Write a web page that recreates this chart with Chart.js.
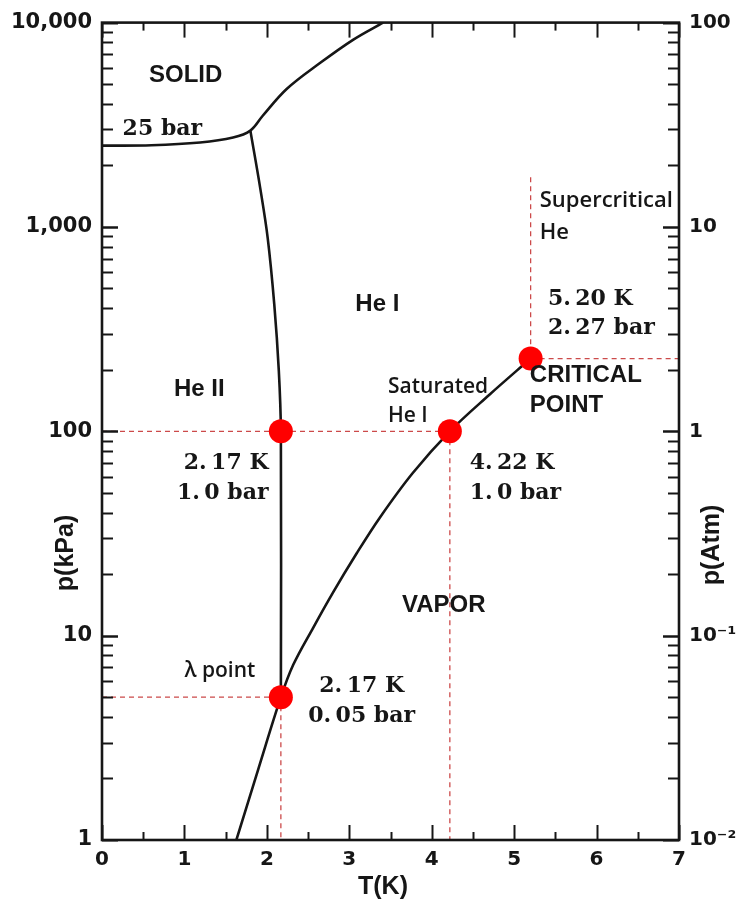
<!DOCTYPE html>
<html>
<head>
<meta charset="utf-8">
<script src="https://cdn.jsdelivr.net/npm/chart.js@4.4.1/dist/chart.umd.min.js"></script>
<style>
  body { margin: 0; background: #fff; }
  canvas { display: block; }
</style>
</head>
<body>
<canvas id="phaseChart" width="736" height="908"></canvas>
<script>
// helium phase boundaries, T in K, p in kPa
const meltT = [0, 0.6, 1.19, 1.59, 1.8, 1.95, 2.24, 2.64, 3.05, 3.41];
const meltP = [2500, 2510, 2590, 2740, 2960, 3500, 4730, 6320, 8260, 10000];

const lambdaT = [1.8, 1.92, 2.01, 2.09, 2.145, 2.17, 2.17];
const lambdaP = [2960, 1545, 885, 418, 198, 100, 5];

const vaporT = [1.63, 1.9, 2.17, 2.32, 2.56, 2.8, 3.09, 3.37, 3.77, 4.22, 4.7, 5.2];
const vaporP = [1, 2.25, 5, 7.2, 10.9, 16.2, 25.3, 37.8, 62.5, 100, 151, 227];

// marked points: lambda (1 bar), boiling point, critical point, lambda (SVP)
const pointT = [2.17, 4.22, 5.2, 2.17];
const pointP = [100, 100, 227, 5];

// guide lines, each one [T0, p0, T1, p1]
const guides = [
  [0, 100, 4.22, 100],
  [4.22, 100, 4.22, 1],
  [0, 5, 2.17, 5],
  [2.17, 5, 2.17, 1],
  [5.2, 1750, 5.2, 227],
  [5.2, 227, 7, 227]
];

const kpaTicks = [1, 10, 100, 1000, 10000];
const atmTicks = [0.01, 0.1, 1, 10, 100];
const atmLabels = ["10\u207B\u00B2", "10\u207B\u00B9", "1", "10", "100"];

const zip = (xs, ys) => xs.map((x, i) => ({ x: x, y: ys[i] }));

const INK = "#161616";
const SANS = '"Liberation Sans", Arial, sans-serif';
const SERIF = '"DejaVu Serif", serif';
const SOFT = '"Open Sans", sans-serif';

// annotations placed in data units (T, p)
const notes = [
  { t: 0.57, p: 5500, lines: ["SOLID"], font: "bold 24px " + SANS },
  { t: 0.25, p: 3000, lines: ["25 bar"], font: "bold 22px " + SERIF },
  { t: 3.34, p: 420, lines: ["He I"], font: "bold 24px " + SANS, align: "center" },
  { t: 1.18, p: 160, lines: ["He II"], font: "bold 24px " + SANS, align: "center" },
  { t: 3.47, p: 165, lines: ["Saturated", "He I"], font: "600 21px " + SOFT, gap: 29 },
  { t: 5.19, p: 187, lines: ["CRITICAL", "POINT"], font: "bold 24px " + SANS, gap: 30 },
  { t: 5.31, p: 1337, lines: ["Supercritical", "He"], font: "600 22px " + SOFT, gap: 32 },
  { t: 5.41, p: 442, lines: ["5.\u200920 K", "2.\u200927 bar"], font: "bold 22px " + SERIF, gap: 29 },
  { t: 2.02, p: 70, lines: ["2.\u200917 K", "1.\u20090 bar"], font: "bold 22px " + SERIF, gap: 30, align: "right" },
  { t: 4.46, p: 70, lines: ["4.\u200922 K", "1.\u20090 bar"], font: "bold 22px " + SERIF, gap: 30 },
  { t: 3.64, p: 14.1, lines: ["VAPOR"], font: "bold 24px " + SANS },
  { t: 1.0, p: 6.7, lines: ["\u03BB point"], font: "600 21px " + SOFT },
  { t: 3.15, p: 5.65, lines: ["2.\u200917 K", "0.\u200905 bar"], font: "bold 22px " + SERIF, gap: 30, align: "center" }
];

const frame = {
  id: "frame",
  afterDatasetsDraw(chart) {
    const { ctx, chartArea: a, scales } = chart;
    const seg = (x0, y0, x1, y1) => { ctx.beginPath(); ctx.moveTo(x0, y0); ctx.lineTo(x1, y1); ctx.stroke(); };
    ctx.save();
    ctx.strokeStyle = INK;
    ctx.lineWidth = 2;

    // inward ticks, top and bottom
    for (let t = 0; t <= 7; t += 0.5) {
      const px = Math.round(scales.x.getPixelForValue(t)) + 0.5;
      const len = t % 1 === 0 ? 15 : 8;
      seg(px, a.bottom, px, a.bottom - len);
      seg(px, a.top, px, a.top + len);
    }
    // inward log ticks, left and right
    for (let d = 1; d < 10000; d *= 10) {
      for (let m = 1; m <= 10; m++) {
        const py = Math.round(scales.y.getPixelForValue(d * m)) + 0.5;
        const len = (m === 1 || m === 10) ? 16 : 11;
        seg(a.left, py, a.left + len, py);
        seg(a.right, py, a.right - len, py);
      }
    }
    ctx.lineWidth = 2.6;
    ctx.strokeRect(a.left, a.top, a.right - a.left, a.bottom - a.top);

    // annotations
    ctx.fillStyle = INK;
    ctx.textBaseline = "middle";
    notes.forEach(n => {
      const x = scales.x.getPixelForValue(n.t);
      const y = scales.y.getPixelForValue(n.p);
      ctx.font = n.font;
      ctx.textAlign = n.align || "left";
      n.lines.forEach((s, i) => ctx.fillText(s, x, y + i * (n.gap || 0)));
    });

    // axis titles
    ctx.font = "bold 25px " + SANS;
    ctx.textAlign = "center";
    ctx.fillText("T(K)", 383, 887);
    ctx.save();
    ctx.translate(66, 553);
    ctx.rotate(-Math.PI / 2);
    ctx.fillText("p(kPa)", 0, 0);
    ctx.restore();
    ctx.save();
    ctx.translate(712, 545);
    ctx.rotate(-Math.PI / 2);
    ctx.fillText("p(Atm)", 0, 0);
    ctx.restore();
    ctx.restore();
  }
};

const tickFont = { family: '"DejaVu Sans", sans-serif', size: 21, weight: "bold" };
const noGrid = { display: false, drawTicks: false };

const datasets = [
  {
    data: zip(pointT, pointP),
    showLine: false,
    pointRadius: 12,
    pointBackgroundColor: "#ff0000",
    pointBorderWidth: 0,
    order: 0
  },
  { data: zip(meltT, meltP) },
  { data: zip(lambdaT, lambdaP) },
  { data: zip(vaporT, vaporP) }
].map(d => Object.assign({ showLine: true, borderColor: INK, borderWidth: 2.6, pointRadius: 0, tension: 0.35, order: 1 }, d));

guides.forEach(g => {
  datasets.push({
    data: [{ x: g[0], y: g[1] }, { x: g[2], y: g[3] }],
    showLine: true,
    borderColor: "#cc4a4a",
    borderWidth: 1.3,
    borderDash: [5, 4],
    pointRadius: 0,
    order: 2
  });
});

new Chart(document.getElementById("phaseChart"), {
  type: "scatter",
  data: { datasets: datasets },
  options: {
    responsive: false,
    animation: false,
    devicePixelRatio: 1,
    layout: { padding: { top: 16, left: 0, right: 0, bottom: 0 } },
    plugins: { legend: { display: false }, tooltip: { enabled: false } },
    scales: {
      x: {
        type: "linear",
        min: 0,
        max: 7,
        ticks: { stepSize: 1, font: Object.assign({}, tickFont, { size: 20 }), color: INK, padding: 8 },
        grid: noGrid,
        border: { display: false },
        afterFit: s => { s.height = 68; }
      },
      y: {
        type: "logarithmic",
        position: "left",
        min: 1,
        max: 10000,
        afterBuildTicks: s => { s.ticks = kpaTicks.map(v => ({ value: v })); },
        ticks: { font: tickFont, color: INK, padding: 10, callback: v => v.toLocaleString("en-US") },
        grid: noGrid,
        border: { display: false },
        afterFit: s => { s.width = 102; }
      },
      y2: {
        type: "logarithmic",
        position: "right",
        min: 0.01,
        max: 100,
        afterBuildTicks: s => { s.ticks = atmTicks.map(v => ({ value: v })); },
        ticks: { font: Object.assign({}, tickFont, { size: 20 }), color: INK, padding: 10, callback: v => atmLabels[atmTicks.indexOf(v)] },
        grid: noGrid,
        border: { display: false },
        afterFit: s => { s.width = 57; }
      }
    }
  },
  plugins: [frame]
});
</script>
</body>
</html>
